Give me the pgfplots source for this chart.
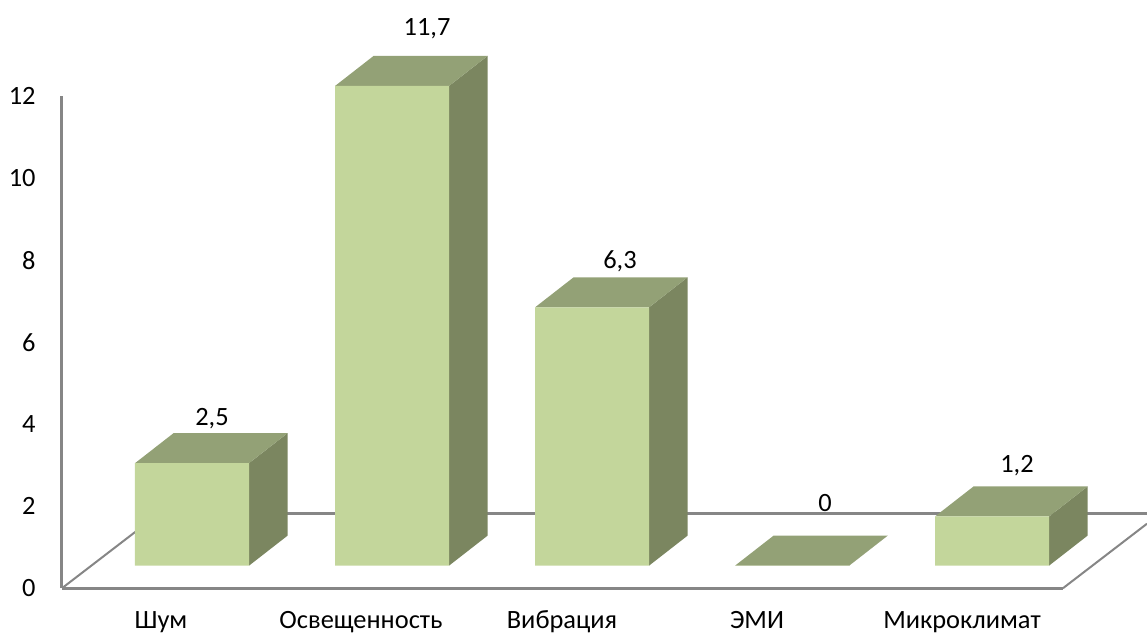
\documentclass[border=0pt]{standalone}
\usepackage{pgfplots}
\usepackage{fontspec}
\setmainfont{Carlito}
\pgfplotsset{compat=1.18}

\definecolor{barfront}{HTML}{C3D69B}
\definecolor{bartop}{HTML}{93A176}
\definecolor{barside}{HTML}{7B8660}
\definecolor{floorline}{HTML}{868686}

% Depth of the pseudo-3D extrusion and half the bar width, in axis units
\newcommand{\depthx}{0.1925}
\newcommand{\depthy}{0.7317}
\newcommand{\halfw}{0.285}

% Top and side faces of the bar at category #1 with value #2
\newcommand{\barfaces}[2]{%
  \pgfmathsetmacro{\xl}{#1-\halfw}%
  \pgfmathsetmacro{\xr}{#1+\halfw}%
  \pgfmathsetmacro{\xlb}{\xl+\depthx}%
  \pgfmathsetmacro{\xrb}{\xr+\depthx}%
  \pgfmathsetmacro{\yb}{#2+\depthy}%
  \edef\facecmds{%
    \noexpand\addplot[draw=none, fill=barside, forget plot] coordinates
      {(\xr,0) (\xrb,\depthy) (\xrb,\yb) (\xr,#2)} -- cycle;
    \noexpand\addplot[draw=none, fill=bartop, forget plot] coordinates
      {(\xl,#2) (\xr,#2) (\xrb,\yb) (\xlb,\yb)} -- cycle;
  }%
  \facecmds
}

\begin{document}
\begin{tikzpicture}
\useasboundingbox (0,0) rectangle (573.5pt,316.5pt);
\begin{axis}[
  at={(31pt,22.4pt)}, anchor=south west,
  scale only axis, width=542.5pt, height=246pt,
  xmin=-0.65, xmax=4.775,
  ymin=-0.549, ymax=11.451,
  clip=false,
  axis y line=left,
  axis x line=bottom,
  x axis line style={draw=none},
  y axis line style={-, draw=floorline, line width=1.5pt},
  major tick length=0pt,
  xtick={0,1,2.005,2.98,4.005},
  xticklabels={Шум,Освещенность,Вибрация,ЭМИ,Микроклимат},
  x tick label style={font=\fontsize{13.2pt}{15pt}\selectfont, xshift=-15.5pt, yshift=-20pt, anchor=base, inner sep=0pt},
  ytick={-0.549,1.451,3.451,5.451,7.451,9.451,11.451},
  yticklabels={0,2,4,6,8,10,12},
  y tick label style={font=\fontsize{13.2pt}{15pt}\selectfont, anchor=east, inner sep=0pt, xshift=-13pt},
]
% Floor of the chart
\addplot[draw=floorline, line width=1.5pt, forget plot] coordinates {(-0.165,1.268) (4.775,1.268)};
\addplot[draw=floorline, line width=1pt, forget plot] coordinates {(-0.65,-0.549) (-0.165,1.268)};
\addplot[draw=floorline, line width=1.5pt, forget plot] coordinates {(-0.65,-0.549) (4.355,-0.549)};
\addplot[draw=floorline, line width=1pt, forget plot] coordinates {(4.355,-0.549) (4.775,1.024)};

% Bars
\barfaces{0}{2.5}
\barfaces{1}{11.7}
\barfaces{2}{6.3}
\barfaces{3}{0}
\barfaces{4}{1.2}
\addplot[ybar, bar width=0.57, draw=none, fill=barfront, forget plot]
  coordinates {(0,2.5) (1,11.7) (2,6.3) (3,0) (4,1.2)};

% Value labels
\addplot[only marks, mark=none, forget plot,
  point meta=explicit symbolic,
  nodes near coords={\pgfplotspointmeta},
  every node near coord/.append style={anchor=center, inner sep=0pt, text=black,
    font=\fontsize{13.2pt}{15pt}\selectfont},
] table[meta=lab] {
x y lab
0.10 3.585 2,5
1.175 13.1 11,7
2.14 7.415 6,3
3.165 1.52 0
4.125 2.44 1,2
};
\end{axis}
\end{tikzpicture}
\end{document}
